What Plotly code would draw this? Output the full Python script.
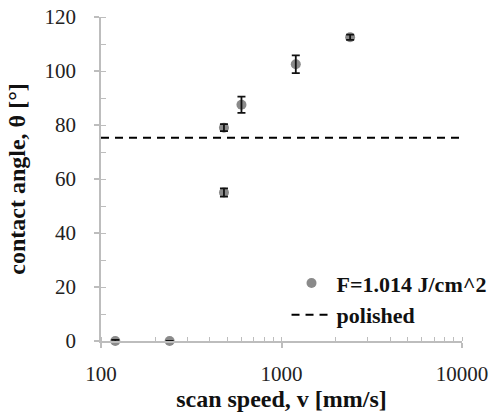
import plotly.graph_objects as go

speed = [120, 240, 480, 480, 600, 1200, 2400]
angle = [0, 0, 55, 79, 87.5, 102.5, 112.5]
angle_err = [0.4, 0, 1.5, 1.3, 3.0, 3.3, 1.0]
polished_x = [100, 10000]
polished_y = [75.3, 75.3]

font = "Liberation Serif"

fig = go.Figure()
fig.add_trace(go.Scatter(
    x=speed, y=angle, mode="markers", name="F=1.014 J/cm^2",
    marker=dict(color="#8a8a8a", size=10),
    cliponaxis=False,
))
# error bars drawn on top of the markers
fig.add_trace(go.Scatter(
    x=speed, y=angle, mode="markers", showlegend=False,
    marker=dict(color="rgba(0,0,0,0)", size=1),
    error_y=dict(type="data", array=angle_err, visible=True, color="#111", thickness=1.8, width=4),
    cliponaxis=False, hoverinfo="skip",
))
fig.add_trace(go.Scatter(
    x=polished_x, y=polished_y, mode="lines", name="polished",
    line=dict(color="black", width=2, dash="8px,6px"),
    cliponaxis=False,
))

axis_common = dict(
    showline=True, linecolor="#bdbdbd", linewidth=1.5, showgrid=False, zeroline=False,
    ticks="outside", tickcolor="#bdbdbd", ticklen=5, tickwidth=1.5, automargin=False,
    tickfont=dict(family=font, size=21, color="#222"),
)

fig.update_xaxes(
    type="log", range=[2, 4], tickvals=[100, 1000, 10000], ticktext=["100", "1000", "10000"],
    minor=dict(ticks="inside", ticklen=4, tickcolor="#bdbdbd", tickwidth=1, dtick="D1"),
    title=dict(text="<b>scan speed, v [mm/s]</b>", font=dict(family=font, size=24, color="#111"), standoff=2),
    ticklabelstandoff=8,
    **axis_common,
)
fig.update_yaxes(
    range=[0, 120], dtick=20,
    minor=dict(ticks="inside", ticklen=5, tickcolor="#bdbdbd", tickwidth=1, dtick=10),
    title=dict(text="<b>contact angle, θ [°]</b>", font=dict(family=font, size=24, color="#111"), standoff=12),
    ticklabelstandoff=14,
    **axis_common,
)

fig.update_layout(
    width=494, height=415,
    margin=dict(l=101, r=32, t=17, b=74, autoexpand=False),
    paper_bgcolor="white", plot_bgcolor="white",
    showlegend=True,
    legend=dict(
        xref="container", yref="container",
        x=0.995, xanchor="right", y=0.368, yanchor="top",
        bgcolor="rgba(0,0,0,0)", font=dict(family=font, size=22, color="#111", weight="bold"),
        itemwidth=40, tracegroupgap=0,
    ),
)

fig.write_html("out.html", config={"displayModeBar": False},
               post_script="document.body.style.margin='0px';")
